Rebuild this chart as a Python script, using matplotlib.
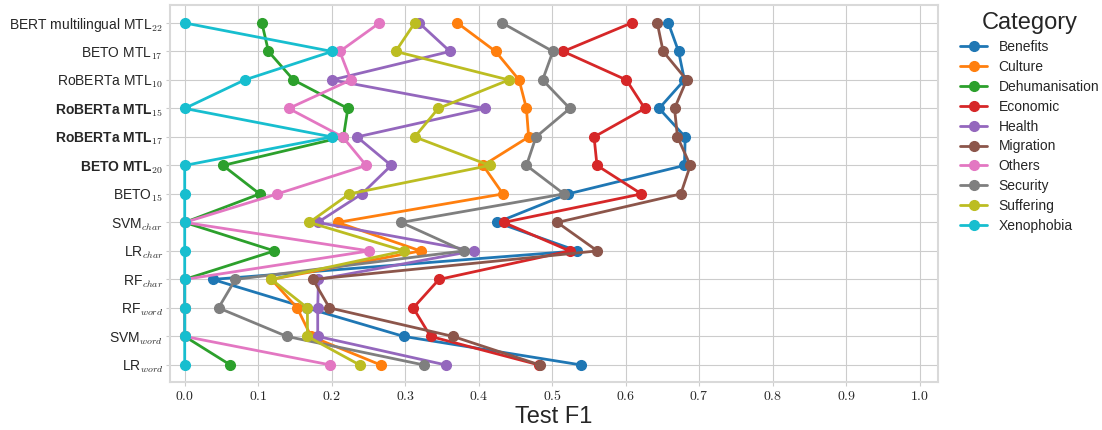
import numpy as np
import matplotlib
matplotlib.use('Agg')
import matplotlib.pyplot as plt
import seaborn as sns

# models, top to bottom
models = [r'BERT multilingual MTL$_{22}$', r'BETO MTL$_{17}$', r'RoBERTa MTL$_{10}$',
          r'RoBERTa MTL$_{15}$', r'RoBERTa MTL$_{17}$', r'BETO MTL$_{20}$',
          r'BETO$_{15}$', r'SVM$_{char}$', r'LR$_{char}$', r'RF$_{char}$',
          r'RF$_{word}$', r'SVM$_{word}$', r'LR$_{word}$']
bold_models = [3, 4, 5]

categories = ['Benefits', 'Culture', 'Dehumanisation', 'Economic', 'Health',
              'Migration', 'Others', 'Security', 'Suffering', 'Xenophobia']

benefits = [0.658, 0.672, 0.680, 0.6455, 0.681, 0.680, 0.5215, 0.425, 0.534, 0.038, 0.166, 0.298, 0.539]
culture = [0.371, 0.423, 0.455, 0.465, 0.468, 0.406, 0.433, 0.208, 0.321, 0.118, 0.153, 0.172, 0.2665]
dehumanisation = [0.105, 0.114, 0.148, 0.222, 0.216, 0.052, 0.102, 0.0, 0.122, 0.0, 0.0, 0.0, 0.062]
economic = [0.608, 0.515, 0.601, 0.626, 0.557, 0.561, 0.6215, 0.434, 0.524, 0.346, 0.311, 0.3345, 0.482]
health = [0.319, 0.361, 0.2005, 0.408, 0.2345, 0.281, 0.241, 0.181, 0.3935, 0.182, 0.181, 0.181, 0.355]
migration = [0.643, 0.651, 0.683, 0.6665, 0.6705, 0.688, 0.675, 0.507, 0.5615, 0.1745, 0.197, 0.365, 0.483]
others = [0.265, 0.211, 0.226, 0.1415, 0.215, 0.247, 0.126, 0.0, 0.251, 0.0, 0.0, 0.0, 0.198]
security = [0.432, 0.501, 0.487, 0.524, 0.478, 0.465, 0.516, 0.2945, 0.380, 0.069, 0.046, 0.139, 0.325]
suffering = [0.313, 0.287, 0.441, 0.345, 0.313, 0.415, 0.224, 0.1696, 0.299, 0.118, 0.167, 0.167, 0.238]
xenophobia = [0.0, 0.2005, 0.0815, 0.0, 0.2005, 0.0, 0.0, 0.0, 0.0, 0.0, 0.0, 0.0, 0.0]

series = [benefits, culture, dehumanisation, economic, health,
          migration, others, security, suffering, xenophobia]

xticks = [0.0, 0.1, 0.2, 0.3, 0.4, 0.5, 0.6, 0.7, 0.8, 0.9, 1.0]

sns.set_style('whitegrid')
plt.rcParams['font.family'] = ['Liberation Sans', 'DejaVu Sans']
plt.rcParams['mathtext.fontset'] = 'cm'

fig, ax = plt.subplots(figsize=(11.02, 4.3), dpi=100)
fig.subplots_adjust(left=170/1102, right=938/1102, top=1-5/430, bottom=1-382/430)

ypos = np.arange(len(models))
colors = plt.get_cmap('tab10').colors
for cat, vals, c in zip(categories, series, colors):
    ax.plot(vals, ypos, '-o', color=c, label=cat, linewidth=2, markersize=7)

ax.set_yticks(ypos)
ax.set_yticklabels(models, fontsize=10)
for i in bold_models:
    ax.get_yticklabels()[i].set_fontweight('bold')
ax.set_ylim(len(models) - 1 + 0.6, -0.63)

ax.set_xticks(xticks)
ax.set_xticklabels([f'${t:.1f}$' for t in xticks], fontsize=10)
ax.set_xlim(-0.02, 1.025)
ax.set_xlabel('Test F1', fontsize=17, labelpad=2)

ax.tick_params(axis='both', which='major', left=True, bottom=True, length=3,
               color='0.8', pad=2)
for sp in ax.spines.values():
    sp.set_edgecolor('0.85')
    sp.set_linewidth(1.5)

# legend outside on the right
leg = ax.legend(title='Category', loc='upper left', bbox_to_anchor=(1.021, 0.995),
                frameon=False, fontsize=10, title_fontsize=17,
                handlelength=2.0, labelspacing=0.42, borderaxespad=0)

plt.savefig('out.png', dpi=100)
